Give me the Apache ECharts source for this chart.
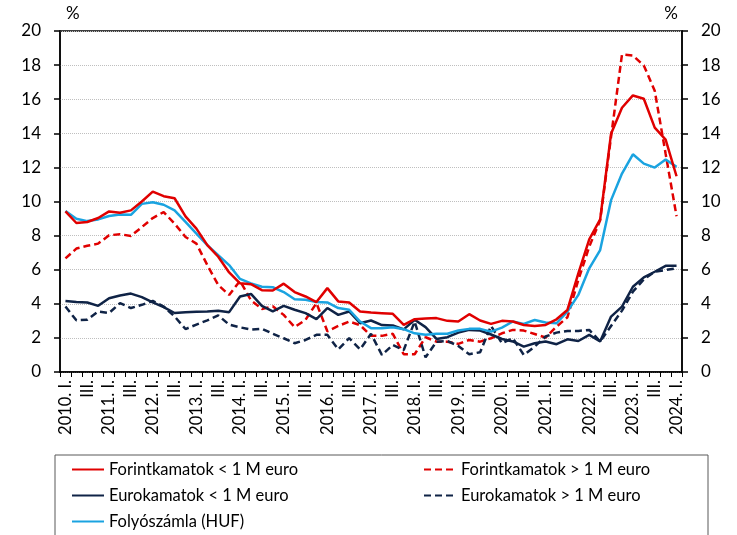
<!DOCTYPE html>
<html>
<head>
<meta charset="utf-8">
<script src="https://cdn.jsdelivr.net/npm/echarts@6/dist/echarts.min.js"></script>
<style>
  html, body { margin: 0; padding: 0; background: #fff; }
  #main { width: 737px; height: 535px; }
</style>
</head>
<body>
<div id="main"></div>
<script>
var years = [2010, 2011, 2012, 2013, 2014, 2015, 2016, 2017, 2018, 2019, 2020, 2021, 2022, 2023, 2024];
var quarters = ['I.', 'II.', 'III.', 'IV.'];
var categories = [];
years.forEach(function (y) {
    quarters.forEach(function (q, k) {
        if (y === 2024 && k > 0) return;
        categories.push(k === 0 ? y + '. ' + q : q);
    });
});

var forintSmall = [9.42, 8.74, 8.8, 9.03, 9.42, 9.34, 9.48, 10.0, 10.58, 10.31, 10.19, 9.13, 8.41, 7.44, 6.76, 5.84,
    5.2, 5.15, 4.8, 4.78, 5.18, 4.69, 4.43, 4.1, 4.92, 4.14, 4.08, 3.55, 3.49, 3.45, 3.41, 2.76,
    3.1, 3.14, 3.16, 3.0, 2.96, 3.39, 3.02, 2.82, 3.0, 2.96, 2.76, 2.7, 2.76, 3.09, 3.64, 5.79,
    7.78, 8.95, 13.98, 15.5, 16.22, 16.03, 14.33, 13.63, 11.48];
var forintLarge = [6.66, 7.24, 7.4, 7.53, 8.02, 8.08, 7.98, 8.5, 9.03, 9.38, 8.7, 7.92, 7.53, 6.27, 5.1, 4.52,
    5.35, 4.2, 3.7, 3.85, 3.35, 2.63, 3.06, 4.04, 2.39, 2.7, 2.96, 2.75, 2.12, 2.12, 2.24, 1.04,
    1.04, 2.04, 1.78, 1.78, 1.65, 1.88, 1.78, 1.98, 2.27, 2.47, 2.43, 2.23, 2.02, 2.66, 3.21, 5.4,
    7.35, 8.9, 13.8, 18.62, 18.56, 17.98, 16.5, 12.8, 9.14];
var euroSmall = [4.17, 4.1, 4.08, 3.88, 4.33, 4.49, 4.6, 4.39, 4.08, 3.81, 3.46, 3.51, 3.53, 3.55, 3.59, 3.51,
    4.43, 4.58, 3.88, 3.55, 3.88, 3.65, 3.45, 3.1, 3.75, 3.35, 3.55, 2.86, 3.02, 2.75, 2.73, 2.5,
    3.06, 2.63, 1.94, 2.04, 2.31, 2.47, 2.43, 2.2, 1.94, 1.79, 1.49, 1.69, 1.79, 1.63, 1.92, 1.82,
    2.18, 1.79, 3.25, 3.83, 5.0, 5.55, 5.88, 6.23, 6.23];
var euroLarge = [3.84, 3.03, 3.07, 3.55, 3.46, 4.04, 3.75, 3.94, 4.17, 3.84, 3.26, 2.52, 2.78, 3.03, 3.32, 2.78,
    2.62, 2.49, 2.54, 2.24, 1.98, 1.69, 1.88, 2.18, 2.18, 1.33, 1.98, 1.33, 2.24, 1.0, 1.59, 1.29,
    2.96, 0.86, 1.78, 1.82, 1.53, 1.04, 1.16, 2.7, 1.69, 1.98, 1.0, 1.49, 2.08, 2.31, 2.41, 2.41,
    2.47, 1.79, 2.7, 3.6, 4.71, 5.43, 5.88, 5.98, 6.08];
var folyo = [9.44, 8.99, 8.85, 8.95, 9.15, 9.24, 9.22, 9.86, 9.96, 9.81, 9.48, 8.8, 8.12, 7.44, 6.85, 6.27,
    5.46, 5.2, 5.0, 4.97, 4.69, 4.27, 4.24, 4.1, 4.08, 3.75, 3.65, 2.96, 2.57, 2.57, 2.63, 2.51,
    2.27, 2.18, 2.24, 2.24, 2.43, 2.53, 2.53, 2.37, 2.6, 2.96, 2.82, 3.05, 2.9, 2.86, 3.54, 4.52,
    6.08, 7.15, 10.08, 11.64, 12.77, 12.22, 11.99, 12.46, 12.03];

var RED = '#e00000', NAVY = '#0f2346', BLUE = '#1aa3e0';
var font = 'Lato, "Open Sans", sans-serif';

function line(name, data, color, dashed) {
    return {
        name: name,
        type: 'line',
        data: data,
        symbol: 'none',
        lineStyle: { color: color, width: 2.5, type: dashed ? [7, 4] : 'solid' },
        itemStyle: { color: color },
        z: dashed ? 3 : 4
    };
}

var myChart = echarts.init(document.getElementById('main'));
var yAxisBase = {
    type: 'value',
    min: 0,
    max: 20,
    interval: 2,
    name: '%',
    nameLocation: 'end',
    nameGap: 9,
    axisLine: { show: true, lineStyle: { color: '#000', width: 1.5 } },
    axisTick: { show: true, length: 6, lineStyle: { color: '#000', width: 1.5 } },
    axisLabel: { color: '#000', fontSize: 17, fontFamily: font, margin: 19 }
};
var legendBase = {
    orient: 'vertical',
    top: 456,
    itemWidth: 32,
    itemHeight: 14,
    itemGap: 9,
    itemStyle: { opacity: 0 },
    textStyle: { fontSize: 16.5, color: '#000', fontFamily: font }
};
var option = {
    animation: false,
    textStyle: { fontFamily: font },
    grid: {
        left: 60,
        right: 55,
        top: 31,
        bottom: 163,
        containLabel: false,
        show: true,
        borderColor: '#000',
        borderWidth: 1.5
    },
    graphic: [{
        type: 'rect',
        shape: { x: 55, y: 455, width: 653, height: 100 },
        style: { fill: 'none', stroke: '#595959', lineWidth: 1 },
        silent: true
    }],
    legend: [
        Object.assign({}, legendBase, {
            left: 66,
            data: ['Forintkamatok < 1 M euro', 'Eurokamatok < 1 M euro', 'Folyószámla (HUF)']
        }),
        Object.assign({}, legendBase, {
            left: 418,
            data: ['Forintkamatok > 1 M euro', 'Eurokamatok > 1 M euro']
        })
    ],
    xAxis: {
        type: 'category',
        boundaryGap: true,
        data: categories,
        axisLine: { lineStyle: { color: '#000', width: 1.5 } },
        axisTick: { show: true, interval: 0, length: 5, alignWithLabel: false, lineStyle: { color: '#000', width: 1 } },
        axisLabel: { interval: 1, rotate: 90, color: '#000', fontSize: 16.5, fontFamily: font, margin: 8 }
    },
    yAxis: [
        Object.assign({}, yAxisBase, {
            position: 'left',
            nameTextStyle: { color: '#000', fontSize: 17, fontFamily: font, align: 'left', padding: [0, 0, 0, 6] },
            splitLine: { show: true, lineStyle: { color: '#bfbfbf', type: 'dotted', width: 1 } }
        }),
        Object.assign({}, yAxisBase, {
            position: 'right',
            nameTextStyle: { color: '#000', fontSize: 17, fontFamily: font, align: 'right', padding: [0, 4, 0, 0] },
            splitLine: { show: false }
        })
    ],
    series: [
        line('Forintkamatok > 1 M euro', forintLarge, RED, true),
        line('Eurokamatok > 1 M euro', euroLarge, NAVY, true),
        line('Eurokamatok < 1 M euro', euroSmall, NAVY, false),
        line('Folyószámla (HUF)', folyo, BLUE, false),
        line('Forintkamatok < 1 M euro', forintSmall, RED, false)
    ]
};
myChart.setOption(option);
</script>
</body>
</html>
